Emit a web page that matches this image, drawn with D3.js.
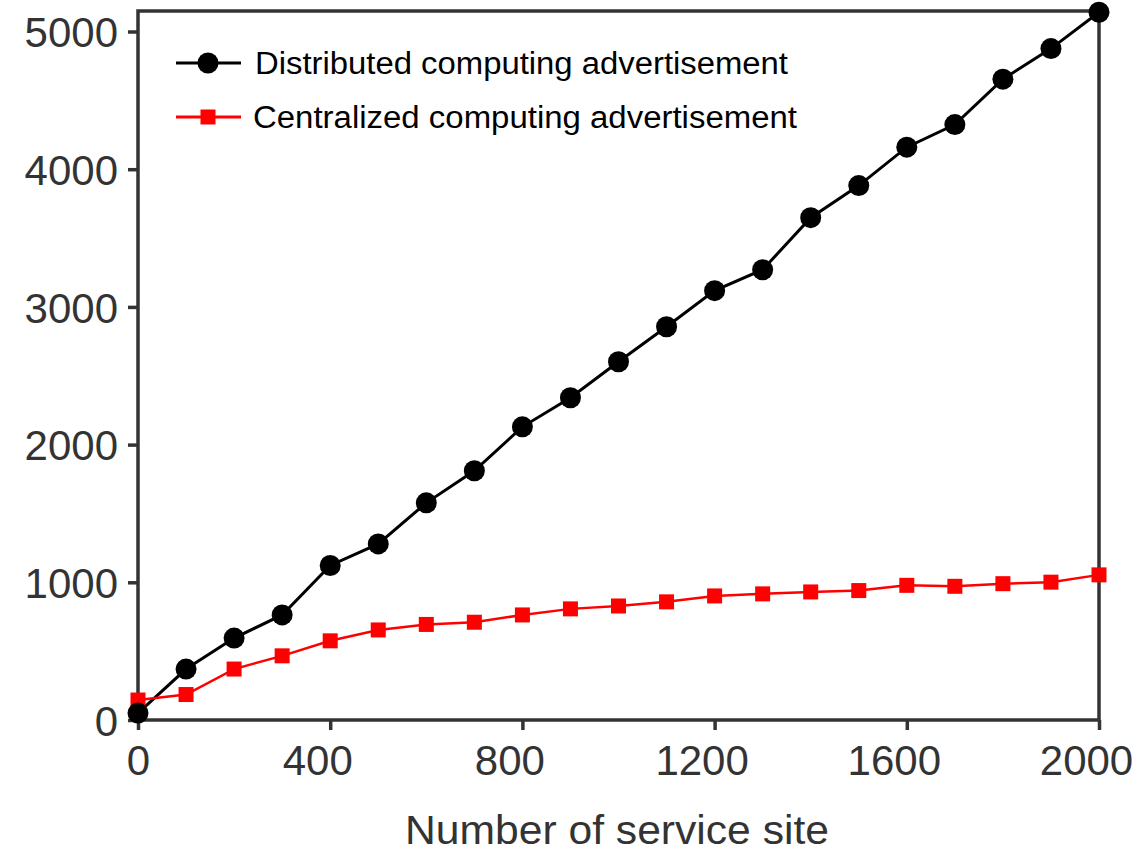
<!DOCTYPE html>
<html>
<head>
<meta charset="utf-8">
<script src="https://cdn.jsdelivr.net/npm/d3@7"></script>
<style>
  body { margin: 0; background: #fff; }
  svg text { font-family: "Liberation Sans", Arial, sans-serif; }
</style>
</head>
<body>
<svg id="chart" width="1138" height="851"></svg>
<script>
var sites = [0, 100, 200, 300, 400, 500, 600, 700, 800, 900, 1000,
             1100, 1200, 1300, 1400, 1500, 1600, 1700, 1800, 1900, 2000];
var distributed = [50, 370, 595, 763, 1122, 1279, 1577, 1810, 2129, 2340, 2602,
                   2856, 3118, 3270, 3648, 3881, 4160, 4324, 4654, 4876, 5140];
var centralized = [145, 185, 370, 466, 575, 654, 694, 710, 763, 807, 828,
                   858, 901, 916, 930, 940, 978, 971, 990, 1001, 1054];
var xTicks = [0, 400, 800, 1200, 1600, 2000];
var yTicks = [0, 1000, 2000, 3000, 4000, 5000];
var seriesNames = ['Distributed computing advertisement', 'Centralized computing advertisement'];

var svg = d3.select('#chart');
var plotLeft = 138, plotRight = 1099, plotTop = 11, plotBottom = 720;
var AXIS = '#333';

var x = d3.scaleLinear().domain([0, 2000]).range([plotLeft, plotRight]);
var y = d3.scaleLinear().domain([0, 5000]).range([plotBottom, plotBottom - 5 * 137.7]);

// frame
svg.append('rect')
    .attr('x', plotLeft).attr('y', plotTop)
    .attr('width', plotRight - plotLeft).attr('height', plotBottom - plotTop)
    .attr('fill', 'none').attr('stroke', AXIS).attr('stroke-width', 3.5);

var xAxis = svg.append('g')
    .attr('transform', 'translate(0,' + plotBottom + ')')
    .call(d3.axisBottom(x).tickValues(xTicks).tickSize(10).tickPadding(15).tickFormat(d3.format('d')));
var yAxis = svg.append('g')
    .attr('transform', 'translate(' + plotLeft + ',0)')
    .call(d3.axisLeft(y).tickValues(yTicks).tickSize(10).tickPadding(10).tickFormat(d3.format('d')));

[xAxis, yAxis].forEach(function(g){
    g.select('.domain').remove();
    g.selectAll('.tick line').attr('stroke', AXIS).attr('stroke-width', 3.5);
    g.selectAll('.tick text').attr('fill', AXIS).style('font-size', '42px');
});
// the original's x labels sit a little left of their ticks
xAxis.selectAll('.tick text')
    .attr('dy', '0.72em')
    .attr('dx', function(d){ return d === 0 ? 0 : -13; });
yAxis.selectAll('.tick text').attr('dy', '0.36em');

svg.append('text')
    .attr('x', 405).attr('y', 844)
    .attr('fill', AXIS)
    .attr('textLength', 424).attr('lengthAdjust', 'spacingAndGlyphs')
    .style('font-size', '40px')
    .text('Number of service site');

var line = d3.line()
    .x(function(d){ return x(d[0]); })
    .y(function(d){ return y(d[1]); });

var distData = d3.zip(sites, distributed);
var centData = d3.zip(sites, centralized);

svg.append('path').datum(distData)
    .attr('d', line).attr('fill', 'none').attr('stroke', '#000').attr('stroke-width', 3);
svg.append('path').datum(centData)
    .attr('d', line).attr('fill', 'none').attr('stroke', '#f00').attr('stroke-width', 2.5);

var SQ = 15;
svg.append('g').selectAll('rect')
    .data(centData).enter()
    .append('rect')
    .attr('x', function(d){ return x(d[0]) - SQ / 2; })
    .attr('y', function(d){ return y(d[1]) - SQ / 2; })
    .attr('width', SQ).attr('height', SQ)
    .attr('fill', '#f00');

svg.append('g').selectAll('circle')
    .data(distData).enter()
    .append('circle')
    .attr('cx', function(d){ return x(d[0]); })
    .attr('cy', function(d){ return y(d[1]); })
    .attr('r', 10.5)
    .attr('fill', '#000');

// legend
var legend = svg.append('g');
var rows = legend.selectAll('g')
    .data(seriesNames).enter()
    .append('g')
    .attr('transform', function(d, i){ return 'translate(0,' + (63 + i * 54) + ')'; });

rows.append('line')
    .attr('x1', 176).attr('x2', 241)
    .attr('stroke', function(d, i){ return i ? '#f00' : '#000'; })
    .attr('stroke-width', 3);
rows.each(function(d, i){
    var g = d3.select(this);
    if (i === 0) {
        g.append('circle').attr('cx', 208).attr('r', 10.5).attr('fill', '#000');
    } else {
        g.append('rect').attr('x', 208 - SQ / 2).attr('y', -SQ / 2)
            .attr('width', SQ).attr('height', SQ).attr('fill', '#f00');
    }
});
rows.append('text')
    .attr('x', function(d, i){ return i ? 253 : 255; })
    .attr('y', 11)
    .attr('fill', '#000')
    .attr('textLength', function(d, i){ return i ? 544 : 533; })
    .attr('lengthAdjust', 'spacingAndGlyphs')
    .style('font-size', '31px')
    .text(function(d){ return d; });
</script>
</body>
</html>
